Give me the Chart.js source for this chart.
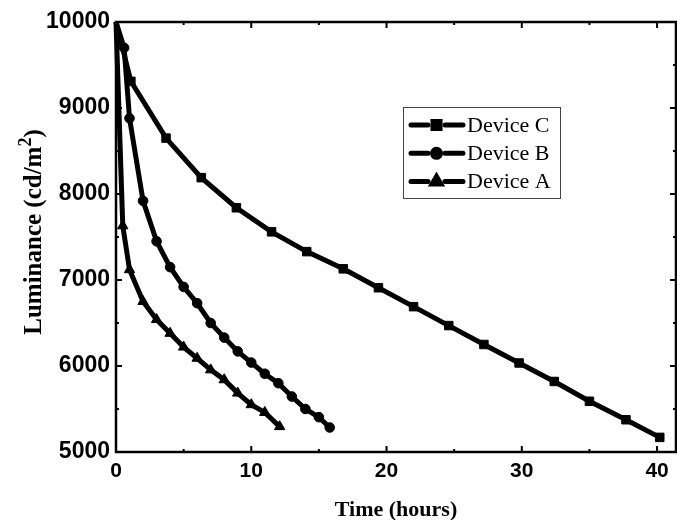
<!DOCTYPE html>
<html>
<head>
<meta charset="utf-8">
<title>Luminance vs Time</title>
<script src="https://cdn.jsdelivr.net/npm/chart.js@4.4.0/dist/chart.umd.min.js"></script>
<style>
  html, body { margin: 0; padding: 0; background: #fff; overflow: hidden; }
  #wrap { width: 677px; height: 520px; overflow: hidden; }
  #inner { width: 760px; height: 520px; }
  #lumChart { display: block; }
</style>
</head>
<body>
<div id="wrap"><div id="inner"><canvas id="lumChart" width="677" height="520"></canvas></div></div>
<script>
// Datos (tiempo en horas, luminancia en cd/m2)
const timeC = [0, 1.1, 3.7, 6.3, 8.9, 11.5, 14.1, 16.8, 19.4, 22.0, 24.6, 27.2, 29.8, 32.4, 35.0, 37.7, 40.2];
const lumC  = [10000, 9310, 8650, 8190, 7840, 7560, 7330, 7130, 6910, 6690, 6470, 6250, 6035, 5820, 5590, 5375, 5170];

const timeB = [0, 0.6, 1, 2, 3, 4, 5, 6, 7, 8, 9, 10, 11, 12, 13, 14, 15, 15.8];
const lumB  = [10000, 9700, 8880, 7920, 7450, 7150, 6920, 6730, 6500, 6330, 6170, 6040, 5910, 5800, 5645, 5500, 5405, 5285];

const timeA = [0, 0.5, 1, 2, 3, 4, 5, 6, 7, 8, 9, 10, 11, 12.1];
const lumA  = [10000, 7630, 7120, 6750, 6540, 6380, 6220, 6090, 5955, 5840, 5685, 5550, 5460, 5295];

const seriesLabels = ['Device C', 'Device B', 'Device A'];
const xTicks = [0, 10, 20, 30, 40];
const yTicks = [5000, 6000, 7000, 8000, 9000, 10000];

const sansFamily = '"Liberation Sans", Arial, sans-serif';
const serifFamily = '"Liberation Serif", "Times New Roman", serif';

// borde derecho deseado del área del gráfico
const targetRight = 676;

function toPoints(xs, ys) {
    return xs.map((x, i) => ({ x: x, y: ys[i] }));
}

function makeDataset(label, xs, ys, style, radius) {
    return {
        label: label,
        data: toPoints(xs, ys),
        borderColor: '#000',
        backgroundColor: '#000',
        borderWidth: 5,
        pointStyle: style,
        // el primer punto (0, 10000) no lleva símbolo
        pointRadius: ctx => ctx.dataIndex === 0 ? 0 : radius,
        pointBorderColor: '#000',
        pointBorderWidth: 1,
        pointBackgroundColor: '#000',
        tension: 0,
        clip: false
    };
}

// Marco y marcas hacia dentro en los cuatro lados
const framePlugin = {
    id: 'frame',
    beforeDatasetsDraw(chart) {
        const { ctx, chartArea: a, scales } = chart;
        const xs = scales.x, ys = scales.y;
        ctx.save();
        ctx.strokeStyle = '#000';
        ctx.lineWidth = 2.5;
        ctx.strokeRect(a.left, a.top, a.right - a.left, a.bottom - a.top);

        ctx.lineWidth = 2;
        ctx.beginPath();
        for (let t = 0; t <= xs.max; t += 5) {
            const px = xs.getPixelForValue(t);
            const len = t % 10 === 0 ? 6 : 3;
            ctx.moveTo(px, a.bottom); ctx.lineTo(px, a.bottom - len);
            ctx.moveTo(px, a.top);    ctx.lineTo(px, a.top + len);
        }
        for (let v = ys.min; v <= ys.max; v += 500) {
            const py = ys.getPixelForValue(v);
            const len = v % 1000 === 0 ? 6 : 3;
            ctx.moveTo(a.left, py);  ctx.lineTo(a.left + len, py);
            ctx.moveTo(a.right, py); ctx.lineTo(a.right - len, py);
        }
        ctx.stroke();
        ctx.restore();
    },
    // Título del eje Y con el superíndice del m2
    afterDraw(chart) {
        const { ctx, chartArea: a } = chart;
        const big = 'bold 25px ' + serifFamily;
        const small = 'bold 18px ' + serifFamily;
        const p1 = 'Luminance (cd/m', p2 = '2', p3 = ')';
        ctx.save();
        ctx.font = big;
        const w1 = ctx.measureText(p1).width, w3 = ctx.measureText(p3).width;
        ctx.font = small;
        const w2 = ctx.measureText(p2).width;
        const total = w1 + w2 + w3;
        ctx.translate(41, (a.top + a.bottom) / 2 - 5);
        ctx.rotate(-Math.PI / 2);
        ctx.fillStyle = '#000';
        ctx.textBaseline = 'alphabetic';
        ctx.textAlign = 'left';
        let x = -total / 2;
        ctx.font = big;
        ctx.fillText(p1, x, 0);
        x += w1;
        ctx.font = small;
        ctx.fillText(p2, x, -10);
        x += w2;
        ctx.font = big;
        ctx.fillText(p3, x, 0);
        ctx.restore();
    }
};

// Leyenda dentro del área del gráfico
const legendPlugin = {
    id: 'boxLegend',
    afterDatasetsDraw(chart) {
        const { ctx } = chart;
        const box = { x: 403, y: 107, w: 157, h: 91 };
        ctx.save();
        ctx.fillStyle = '#fff';
        ctx.fillRect(box.x, box.y, box.w, box.h);
        ctx.strokeStyle = '#444';
        ctx.lineWidth = 1;
        ctx.strokeRect(box.x + 0.5, box.y + 0.5, box.w, box.h);

        chart.data.datasets.forEach((ds, i) => {
            const cy = 125 + i * 28.3;
            ctx.strokeStyle = '#000';
            ctx.lineWidth = 5;
            ctx.lineCap = 'round';
            ctx.beginPath();
            ctx.moveTo(411, cy); ctx.lineTo(428, cy);
            ctx.moveTo(445, cy); ctx.lineTo(463, cy);
            ctx.stroke();
            Chart.helpers.drawPoint(ctx, {
                pointStyle: ds.pointStyle,
                radius: ds.pointStyle === 'circle' ? 4 : 5,
                rotation: 0,
                borderWidth: 1
            }, 436.5, cy);
            ctx.fillStyle = '#000';
            ctx.fill();
            ctx.font = '22px ' + serifFamily;
            ctx.textBaseline = 'middle';
            ctx.textAlign = 'left';
            ctx.fillText(ds.label, 467, cy + 1);
        });
        ctx.restore();
    }
};

function buildChart(canvas) {
    return new Chart(canvas.getContext('2d'), {
        type: 'line',
        data: {
            datasets: [
                makeDataset(seriesLabels[0], timeC, lumC, 'rect', 6),
                makeDataset(seriesLabels[1], timeB, lumB, 'circle', 4.8),
                makeDataset(seriesLabels[2], timeA, lumA, 'triangle', 6)
            ]
        },
        options: {
            responsive: false,
            maintainAspectRatio: false,
            animation: false,
            devicePixelRatio: 1,
            events: [],
            layout: { padding: { top: 22, right: 1, left: 0, bottom: 0 } },
            plugins: {
                legend: { display: false },
                tooltip: { enabled: false }
            },
            scales: {
                x: {
                    type: 'linear',
                    min: 0,
                    max: 41.4,
                    afterBuildTicks: s => { s.ticks = xTicks.map(v => ({ value: v })); },
                    afterFit: s => { s.height = 68; s.paddingRight = 0; s.paddingLeft = 0; },
                    grid: { display: false, drawTicks: false },
                    border: { display: false },
                    ticks: {
                        color: '#000',
                        font: { family: sansFamily, size: 21, weight: 'bold' },
                        padding: 7,
                        maxRotation: 0,
                        callback: v => String(v)
                    },
                    title: {
                        display: true,
                        text: 'Time (hours)',
                        color: '#000',
                        font: { family: serifFamily, size: 22, weight: 'bold' },
                        padding: { top: 0, bottom: -4 }
                    }
                },
                y: {
                    type: 'linear',
                    min: 5000,
                    max: 10000,
                    afterBuildTicks: s => { s.ticks = yTicks.map(v => ({ value: v })); },
                    afterFit: s => { s.width = 116; s.paddingTop = 0; s.paddingBottom = 0; },
                    grid: { display: false, drawTicks: false },
                    border: { display: false },
                    ticks: {
                        color: '#000',
                        font: { family: sansFamily, size: 23, weight: 'bold' },
                        padding: 6,
                        callback: v => String(v)
                    },
                    title: { display: false }
                }
            }
        },
        plugins: [framePlugin, legendPlugin]
    });
}

// Crea el gráfico y, si el borde derecho no cae en targetRight, lo rehace con un lienzo más ancho
const canvas = document.getElementById('lumChart');
let chart = buildChart(canvas);
const diff = Math.round(targetRight - chart.chartArea.right);
if (diff !== 0) {
    const w = chart.width + diff;
    chart.destroy();
    canvas.width = w;
    canvas.height = 520;
    canvas.style.width = w + 'px';
    canvas.style.height = '520px';
    chart = buildChart(canvas);
}
</script>
</body>
</html>
